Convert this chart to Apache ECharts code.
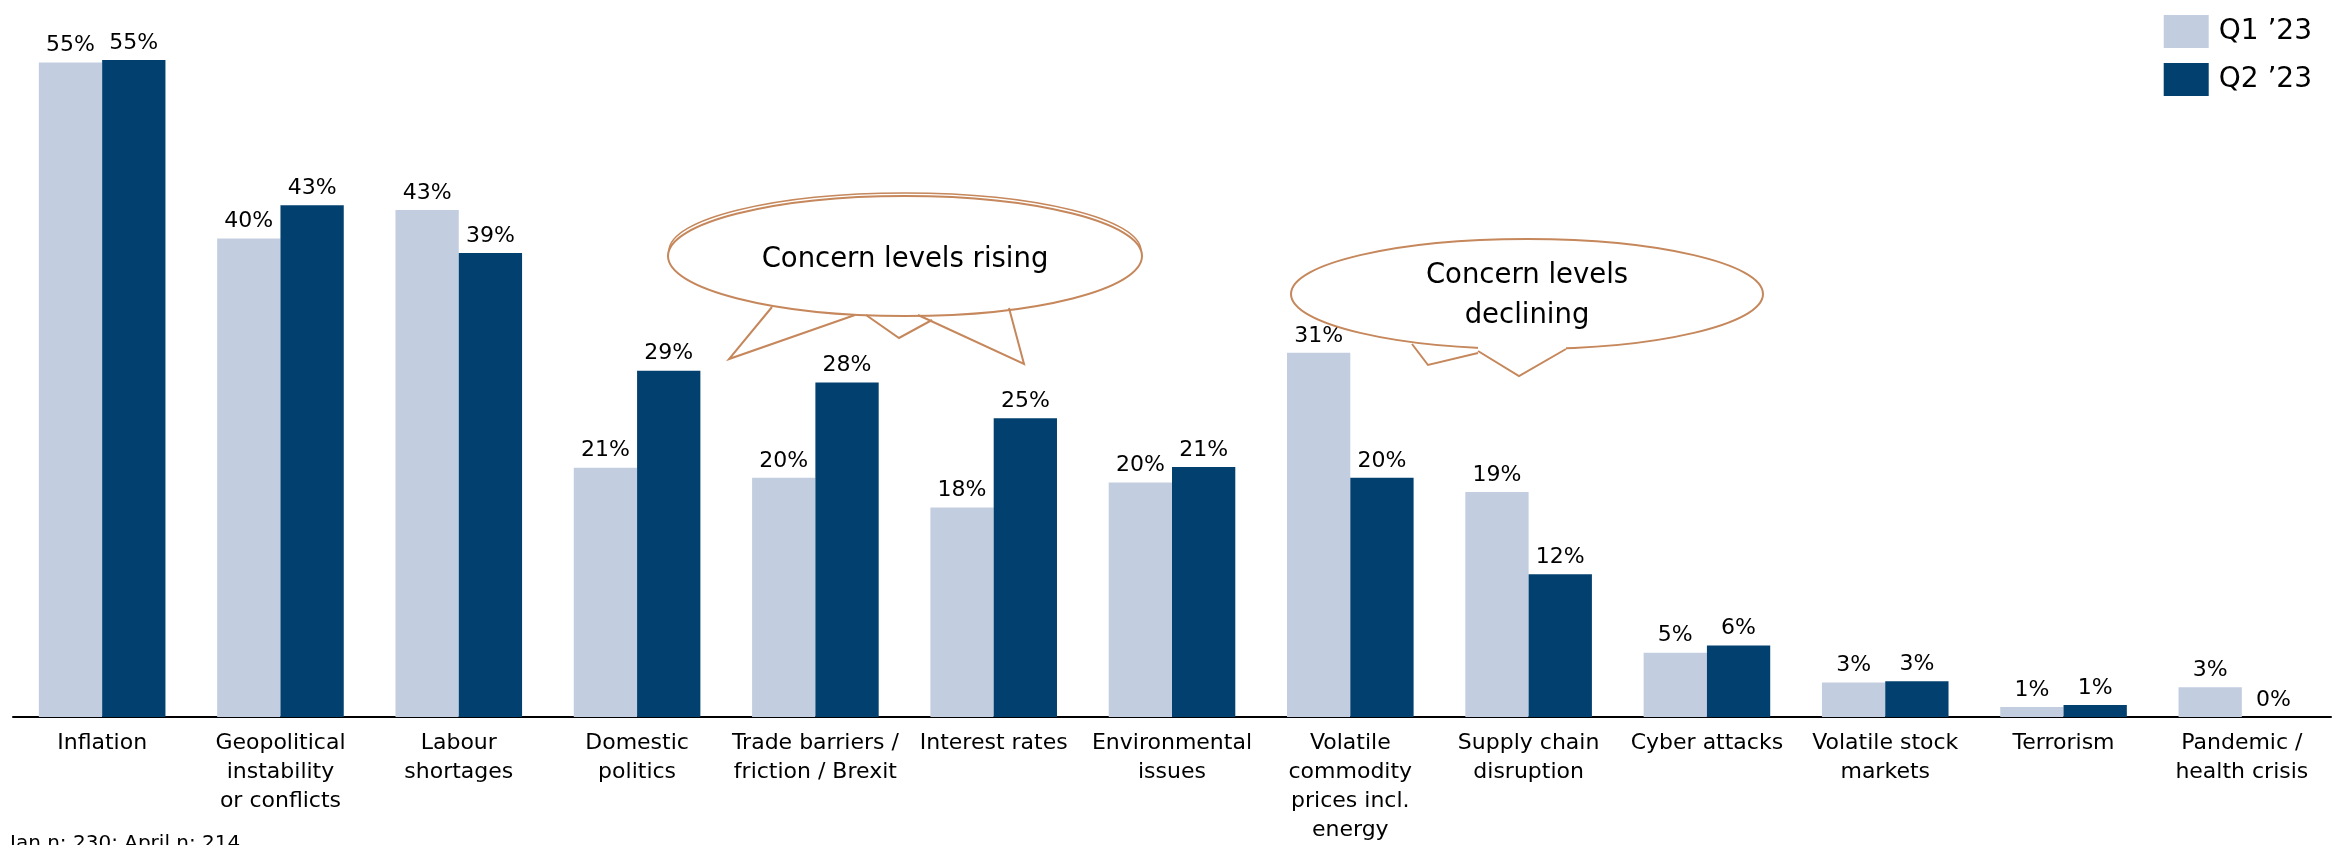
<!DOCTYPE html>
<html>
<head>
<meta charset="utf-8">
<script src="https://cdn.jsdelivr.net/npm/echarts@6/dist/echarts.min.js"></script>
<style>
  html, body { margin: 0; padding: 0; background: #fff; }
  #chart { width: 2348px; height: 845px; }
</style>
</head>
<body>
<div id="chart"></div>
<script>
const categories = [
  'Inflation',
  'Geopolitical\ninstability\nor conflicts',
  'Labour\nshortages',
  'Domestic\npolitics',
  'Trade barriers /\nfriction / Brexit',
  'Interest rates',
  'Environmental\nissues',
  'Volatile\ncommodity\nprices incl.\nenergy',
  'Supply chain\ndisruption',
  'Cyber attacks',
  'Volatile stock\nmarkets',
  'Terrorism',
  'Pandemic /\nhealth crisis'
];
const seriesNames = ['Q1 \u201923', 'Q2 \u201923'];
// labels show rounded values
const q1Values = [55.0, 40.2, 42.6, 20.95, 20.1, 17.6, 19.7, 30.6, 18.9, 5.4, 2.9, 0.83, 2.5];
const q2Values = [55.2, 43.0, 39.0, 29.1, 28.1, 25.1, 21.0, 20.1, 12.0, 6.0, 3.0, 1.0, 0];
const footnote = 'Jan n: 230; April n: 214';
const bubbleTexts = ['Concern levels rising', 'Concern levels\ndeclining'];

const font = 'DejaVu Sans, sans-serif';
const bubbleColor = '#C5875B';

const chart = echarts.init(document.getElementById('chart'));

const labelStyle = {
  show: true,
  position: 'top',
  distance: 6,
  color: '#000',
  fontSize: 22,
  fontFamily: font,
  formatter: p => Math.round(p.value) + '%'
};

// speech bubble: ellipse + tail lines
const bubble = (cx, cy, rx, ry, tails, text, textY, double) => {
  const els = [
    {
      type: 'ellipse',
      shape: { cx: cx, cy: cy, rx: rx, ry: ry },
      style: { fill: '#fff', stroke: bubbleColor, lineWidth: 2 },
      z: 100
    }
  ];
  if (double) {
    // second outline along the top half
    const k = 0.5523, y = cy - 5, a = rx - 1, b = ry - 2;
    els.push({
      type: 'bezierCurve',
      shape: { x1: cx - a, y1: y, cpx1: cx - a, cpy1: y - k * b, cpx2: cx - k * a, cpy2: y - b, x2: cx, y2: y - b },
      style: { fill: null, stroke: bubbleColor, lineWidth: 1.5 },
      z: 101
    });
    els.push({
      type: 'bezierCurve',
      shape: { x1: cx, y1: y - b, cpx1: cx + k * a, cpy1: y - b, cpx2: cx + a, cpy2: y - k * b, x2: cx + a, y2: y },
      style: { fill: null, stroke: bubbleColor, lineWidth: 1.5 },
      z: 101
    });
  }
  tails.forEach(t => {
    const pts = t.pts;
    if (t.open) {
      // hide the ellipse edge across the tail opening
      const a = pts[0], c = pts[pts.length - 1];
      els.push({
        type: 'polygon',
        shape: { points: [[a[0], a[1] - 5], a, pts[1], c, [c[0], c[1] - 5]] },
        style: { fill: '#fff', lineWidth: 0 },
        z: 101
      });
    }
    els.push({
      type: 'polyline',
      shape: { points: pts },
      style: { fill: null, stroke: bubbleColor, lineWidth: 2 },
      z: 102
    });
  });
  els.push({
    type: 'text',
    x: cx,
    y: textY,
    style: {
      text: text,
      fill: '#000',
      fontSize: 27.5,
      fontFamily: font,
      align: 'center',
      verticalAlign: 'middle',
      lineHeight: 40
    },
    z: 103
  });
  return els;
};

const option = {
  animation: false,
  backgroundColor: '#fff',
  grid: { left: 13, right: 17, top: 3, bottom: 123 },
  legend: {
    orient: 'vertical',
    right: 31,
    top: 10,
    itemWidth: 45,
    itemHeight: 33,
    itemGap: 15,
    icon: 'rect',
    textStyle: { fontSize: 28, lineHeight: 33, fontFamily: font, color: '#000', padding: [0, 0, 0, 5] },
    data: seriesNames
  },
  xAxis: {
    type: 'category',
    data: categories,
    axisTick: { show: false },
    axisLine: { lineStyle: { color: '#000', width: 2 } },
    axisLabel: {
      interval: 0,
      margin: 12,
      color: '#000',
      fontSize: 22,
      fontFamily: font,
      lineHeight: 29
    }
  },
  yAxis: {
    type: 'value',
    min: 0,
    max: 60,
    show: false,
    splitLine: { show: false }
  },
  series: [
    {
      name: seriesNames[0],
      type: 'bar',
      data: q1Values,
      barGap: '0%',
      barCategoryGap: '29%',
      itemStyle: { color: '#C3CDE0' },
      label: labelStyle
    },
    {
      name: seriesNames[1],
      type: 'bar',
      data: q2Values,
      itemStyle: { color: '#02406F' },
      label: labelStyle
    }
  ],
  graphic: [
    ...bubble(905, 256, 237, 60, [
      { pts: [[772, 307], [729, 359], [855, 315]] },
      { pts: [[866, 315], [899, 338], [932, 320]] },
      { pts: [[918, 315], [1024, 364], [1009, 308]] }
    ], bubbleTexts[0], 260, true),
    ...bubble(1527, 294, 236, 55, [
      { pts: [[1412, 344], [1428, 365], [1478, 353]] },
      { pts: [[1478, 351], [1519, 376], [1566, 349]], open: true }
    ], bubbleTexts[1], 296, false),
    {
      type: 'text',
      left: 10,
      top: 834,
      style: { text: footnote, fill: '#000', fontSize: 20, fontFamily: font }
    }
  ]
};

chart.setOption(option);
</script>
</body>
</html>
